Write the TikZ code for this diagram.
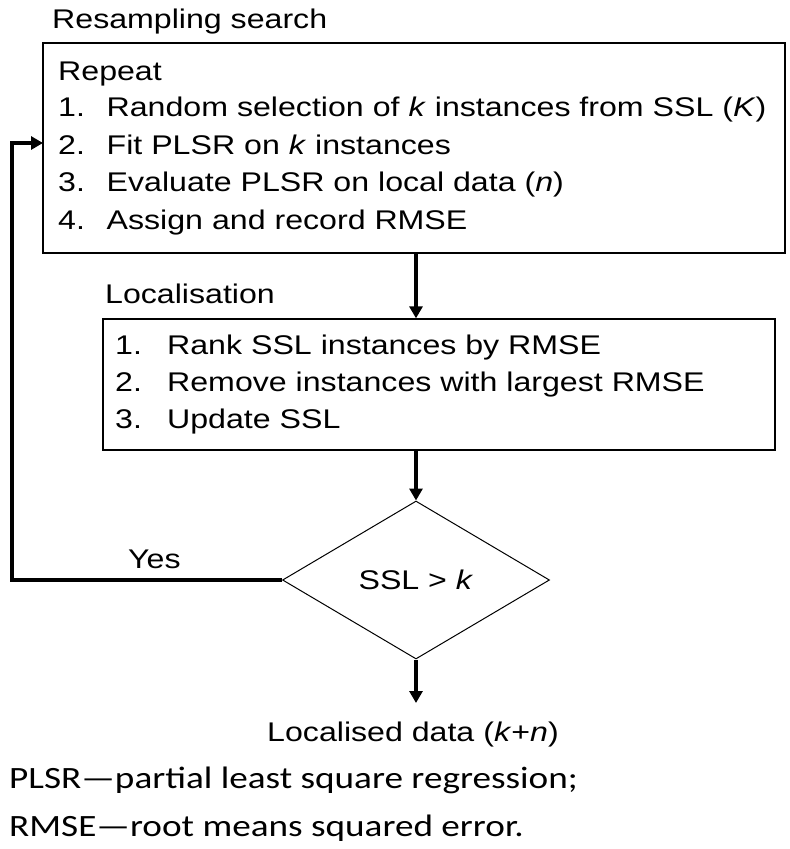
\documentclass[tikz,border=0pt]{standalone}
\usepackage{fontspec}
\setmainfont{Liberation Sans}[FakeStretch=1.19]
\newfontfamily\notefont{Carlito}[FakeStretch=1.2]
\usetikzlibrary{shapes.geometric,arrows.meta}

\begin{document}
\begin{tikzpicture}[x=1pt,y=-1pt,
  every node/.style={font=\fontsize{27}{32}\selectfont},
  stepbox/.style={draw, line width=1.3pt, rectangle, inner sep=0pt},
  decision/.style={draw, line width=1pt, shape=diamond, inner sep=0pt,
    minimum width=267pt, minimum height=158pt, aspect=1.69},
  txt/.style={anchor=base west, inner sep=0pt},
  note/.style={anchor=base west, inner sep=0pt, font=\notefont\fontsize{31}{36}\selectfont},
  arr/.style={line width=3.4pt, -{Triangle[length=12pt,width=13pt]}}]
\useasboundingbox (0,0) rectangle (790,849);

% resampling search block
\node[txt] (t0) at (52,28) {Resampling search};
\node[stepbox, minimum width=742pt, minimum height=210pt] (box1) at (414,148) {};
\node[txt] (r0) at (58,80) {Repeat};
\node[txt] (r1) at (58,116) {\makebox[48.5pt][l]{1.}Random selection of \textit{k} instances from SSL (\textit{K})};
\node[txt] (r2) at (58,154) {\makebox[48.5pt][l]{2.}Fit PLSR on \textit{k} instances};
\node[txt] (r3) at (58,191.5) {\makebox[48.5pt][l]{3.}Evaluate PLSR on local data (\textit{n})};
\node[txt] (r4) at (58,229) {\makebox[48.5pt][l]{4.}Assign and record RMSE};

% localisation block
\node[txt] (t1) at (105,303) {Localisation};
\node[stepbox, minimum width=672pt, minimum height=131pt] (box2) at (439,384.5) {};
\node[txt] (l1) at (115,354) {\makebox[52pt][l]{1.}Rank SSL instances by RMSE};
\node[txt] (l2) at (115,391) {\makebox[52pt][l]{2.}Remove instances with largest RMSE};
\node[txt] (l3) at (115,428) {\makebox[52pt][l]{3.}Update SSL};

% decision
\node[decision] (dia) at (416,580) {SSL > \textit{k}};

% output
\node[anchor=base, inner sep=0pt] (out) at (413,741) {Localised data (\textit{k}+\textit{n})};
\coordinate (outtip) at (416,703);

% loop back
\coordinate (turn) at (12,0);
\coordinate (loopin) at (43,143);
\node[txt] (yes) at (128,568) {Yes};

\draw[arr] (box1.south -| dia.north) -- (box2.north -| dia.north);
\draw[arr] (box2.south -| dia.north) -- (dia.north);
\draw[arr] (dia.south) -- (outtip);
\draw[arr] (dia.west) -- (dia.west -| turn) |- (loopin);

% abbreviations
\node[note] (n1) at (9,788) {PLSR—partial least square regression;};
\node[note] (n2) at (9,836) {RMSE—root means squared error.};
\end{tikzpicture}
\end{document}
